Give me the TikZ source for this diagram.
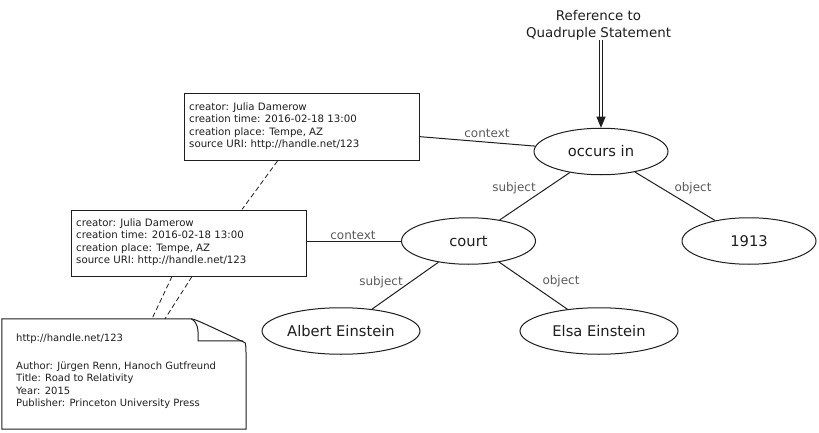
\documentclass[tikz,border=0pt]{standalone}
\usepackage{fontspec}
\setmainfont{DejaVu Sans}
\usepackage{tikz}
\usetikzlibrary{arrows.meta,calc,positioning,shapes.geometric}
\definecolor{ink}{HTML}{1E1E1E}
\definecolor{edgegray}{HTML}{5A5A5A}
\newcommand{\termlabel}[1]{\makebox[0pt]{\raisebox{-1.5pt}{#1}}}
\tikzset{
  termnode/.style={ellipse, draw=ink, line width=1pt, fill=white, inner sep=0pt,
    minimum width=134pt, minimum height=46.5pt, font=\fontsize{14.7}{15}\selectfont, text=ink},
  widenode/.style={termnode, minimum width=158pt},
  metabox/.style={rectangle, draw=ink, line width=1pt, fill=white, align=left,
    minimum width=235pt, minimum height=67pt, inner sep=0pt},
  metatext/.style={align=left, anchor=north west, inner sep=0pt, text=ink,
    font=\fontsize{10.2}{12.4}\selectfont},
  edgelabel/.style={font=\fontsize{12}{12}\selectfont, text=edgegray},
  rellink/.style={draw=ink, line width=1pt},
  metalink/.style={draw=ink, line width=0.8pt, dash pattern=on 5pt off 3pt}
}
\begin{document}
\begin{tikzpicture}[x=1pt,y=-1pt]
  \useasboundingbox (0,0) rectangle (819,433);
  % Relation terms
  \node[termnode] (occurs) at (601,151.5) {\termlabel{occurs in}};
  \node[termnode] (court) at (468.5,241) {\termlabel{court}};
  \node[termnode] (year) at (749,241) {\termlabel{1913}};
  \node[widenode] (albert) at (341,331) {\termlabel{Albert Einstein}};
  \node[widenode] (elsa) at (599,331) {\termlabel{Elsa Einstein}};

  % Context boxes
  \node[metabox] (contextupper) at (301.5,127) {};
  \node[metabox, minimum height=66pt] (contextlower) at (189,243) {};
  \node[metatext] (uppertext) at (189,102.5)
    {creator: Julia Damerow\\creation time: 2016-02-18 13:00\\creation place: Tempe, AZ\\source URI: http://handle.net/123};
  \node[metatext] (lowertext) at (76,218.5)
    {creator: Julia Damerow\\creation time: 2016-02-18 13:00\\creation place: Tempe, AZ\\source URI: http://handle.net/123};

  % Source document
  \node[minimum width=244pt, minimum height=110pt, inner sep=0pt] (source) at (124,374) {};
  \draw[line width=1pt, draw=ink, fill=white]
    (source.south west) -- (source.north west) -- ++(188,0)
    .. controls ($(source.north east)+(-52,0)$) .. ($(source.north east)+(-1,24)$)
    .. controls (source.east |- 0,347) .. (source.south east) -- cycle;
  \draw[line width=1pt, draw=ink]
    ($(source.north east)+(-55,0)$) .. controls ($(source.north east)+(-48,4)$) and ($(source.north east)+(-48,10)$)
    .. ($(source.north east)+(-48,22)$) -- ($(source.north east)+(-3,22)$);
  \node[metatext, font=\fontsize{10}{12.3}\selectfont] (sourcetext) at (16,334)
    {http://handle.net/123\\[15.5pt]Author: Jürgen Renn, Hanoch Gutfreund\\Title: Road to Relativity\\Year: 2015\\Publisher: Princeton University Press};

  % Statement reference
  \node[align=center, inner sep=0pt, text=ink, font=\fontsize{13.4}{17}\selectfont]
    (reference) at (598.5,25) {Reference to\\Quadruple Statement};
  \draw[draw=ink, line width=0.8pt, double=white, double distance=1.6pt, -{Triangle[length=11pt, width=9pt]}]
    (occurs.north |- reference.south) -- (occurs.north);

  % Connectors
  \draw[rellink] (contextupper) -- (occurs);
  \draw[rellink] (contextlower.east |- court) -- (court);
  \draw[rellink] (occurs) -- (court);
  \draw[rellink] (occurs) -- (year);
  \draw[rellink] (court) -- (elsa);
  \draw[rellink] (court) -- (albert);
  \draw[metalink] ([xshift=-24pt]contextupper.south) -- ([xshift=53pt]contextlower.north);
  \draw[metalink] ([xshift=-17pt]contextlower.south) -- ([xshift=28pt]source.north);
  \draw[metalink] ([xshift=3pt]contextlower.south) -- ([xshift=41pt]source.north);

  % Edge labels
  \node[edgelabel] (lblupper) at (487,133) {context};
  \node[edgelabel] (lblsubj) at (514,188) {subject};
  \node[edgelabel] (lblobj) at (693,188.5) {object};
  \node[edgelabel] (lbllower) at (353,235) {context};
  \node[edgelabel] (lblsubjb) at (381,282) {subject};
  \node[edgelabel] (lblobjb) at (561,281.5) {object};
\end{tikzpicture}
\end{document}
